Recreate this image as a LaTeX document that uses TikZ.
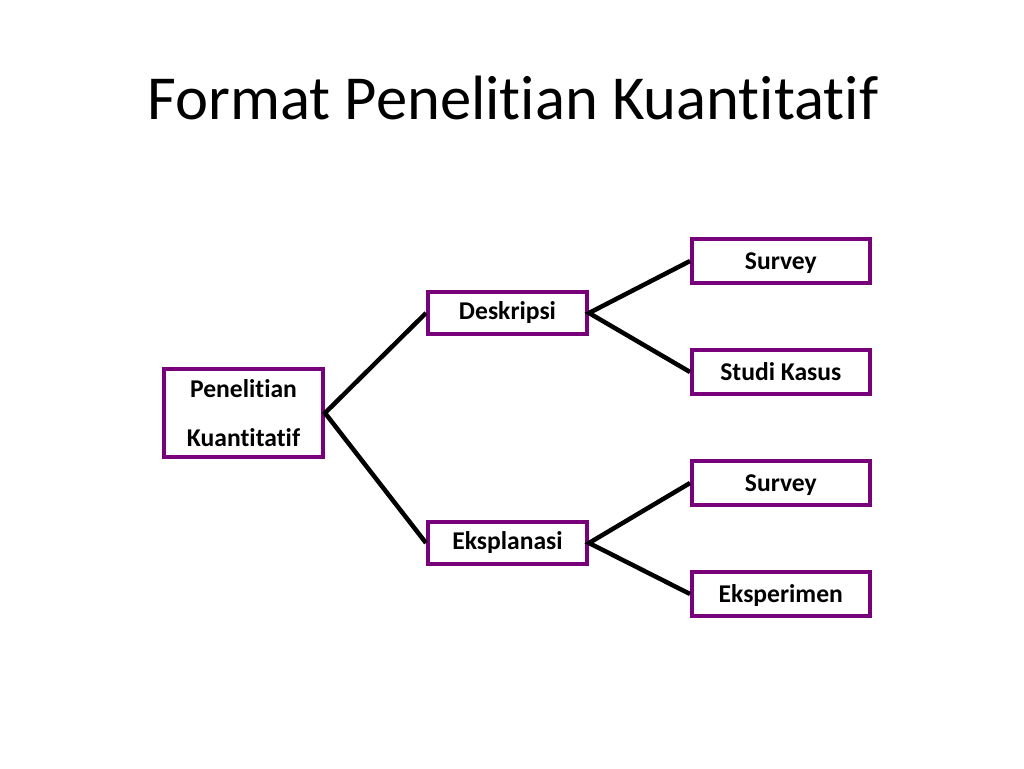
\documentclass[tikz,border=0pt]{standalone}
\usepackage{fontspec}
\setmainfont[Ligatures={NoCommon,NoRequired,NoContextual}]{Carlito}
\definecolor{boxpurple}{RGB}{120,0,122}
\begin{document}
\begin{tikzpicture}[x=1pt,y=-1pt,
  box/.style={draw=boxpurple, line width=4pt, fill=white, rectangle, inner sep=0pt,
    font=\fontsize{25.6}{30}\selectfont\bfseries, text height=16.5pt, text depth=0pt},
  link/.style={line width=4.5pt, black}]
\useasboundingbox[fill=white] (0,0) rectangle (1024,768);
\node[font=\fontsize{62.6}{70}\selectfont, anchor=base] (title) at (513,119) {Format Penelitian Kuantitatif};

\node[box, minimum width=159pt, minimum height=88pt, align=center,
  font=\fontsize{25.6}{46}\selectfont\bfseries, text height=, text depth=] (pk) at (243.5,413)
  {\raisebox{3pt}{Penelitian}\\Kuantitatif};

\node[box, minimum width=159pt, minimum height=42.5pt] (desk) at (507.5,313) {\raisebox{2pt}{Deskripsi}};
\node[box, minimum width=159pt, minimum height=42.5pt] (eksp) at (507.5,543) {\raisebox{2pt}{Eksplanasi}};

\node[box, minimum width=177.5pt, minimum height=44pt] (s1) at (780.8,261) {Survey};
\node[box, minimum width=177.5pt, minimum height=44pt] (sk) at (780.8,372) {Studi Kasus};
\node[box, minimum width=177.5pt, minimum height=44pt] (s2) at (780.8,483) {Survey};
\node[box, minimum width=177.5pt, minimum height=44pt] (ek) at (780.8,594) {Eksperimen};

\draw[link] (desk.west) -- (pk.east) -- (eksp.west);
\draw[link] (s1.west) -- (desk.east) -- (sk.west);
\draw[link] (s2.west) -- (eksp.east) -- (ek.west);
\end{tikzpicture}
\end{document}
